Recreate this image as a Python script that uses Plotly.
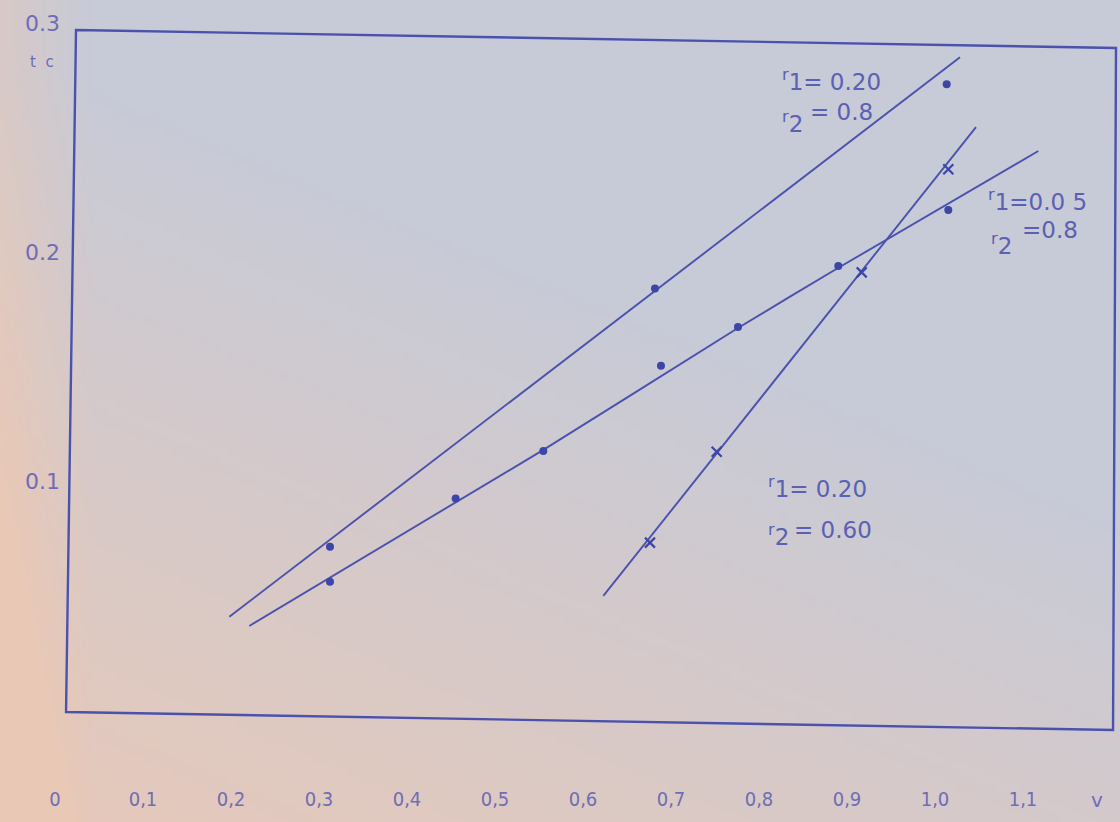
import zlib, struct, base64
import plotly.graph_objects as go

# ---------------- data ----------------
# Series A : r1 = 0.20, r2 = 0.8  (dots + straight fit)
a_v = [0.3125, 0.6818, 1.0133]
a_t = [0.0713, 0.1841, 0.2732]
a_line_v = [0.1981, 1.0284]
a_line_t = [0.0407, 0.2850]

# Series B : r1 = 0.05, r2 = 0.8  (dots + drawn curve)
b_v = [0.3125, 0.4553, 0.5549, 0.6886, 0.7761, 0.8901, 1.0151]
b_t = [0.0560, 0.0924, 0.1131, 0.1503, 0.1672, 0.1939, 0.2183]
b_line_v = [0.2208, 0.5545, 0.7761, 0.8898, 1.1174]
b_line_t = [0.0367, 0.1135, 0.1668, 0.1930, 0.2441]

# Series C : r1 = 0.20, r2 = 0.60  (crosses + straight fit)
c_v = [0.6761, 0.7519, 0.9167, 1.0151]
c_t = [0.0731, 0.1128, 0.1911, 0.2361]
c_line_v = [0.6231, 1.0466]
c_line_t = [0.0498, 0.2545]

x_tickvals = [0.0, 0.1, 0.2, 0.3, 0.4, 0.5, 0.6, 0.7, 0.8, 0.9, 1.0, 1.1]
x_ticktext = ["0", "0,1", "0,2", "0,3", "0,4", "0,5", "0,6", "0,7", "0,8", "0,9", "1,0", "1,1"]
y_tickvals = [0.1, 0.2, 0.3]
y_ticktext = ["0.1", "0.2", "0.3"]

# ---------------- styling ----------------
W, H = 1120, 822
ML, MR, MT, MB = 55, 4, 23, 112
PW, PH = W - ML - MR, H - MT - MB
LINE = "#4a52ad"
DOT = "#3c46a6"
TXT = "#5a60b2"
TICK = "#6e6db6"
FONT = "DejaVu Sans"


def pp(px, py):
    """pixel -> paper coordinates"""
    return (px - ML) / PW, (H - MB - py) / PH


def make_bg(w=160, h=118):
    base = (199, 202, 215)
    pink = (234, 200, 182)
    raw = bytearray()
    for j in range(h):
        yy = j / (h - 1)
        raw.append(0)
        for i in range(w):
            xx = i / (w - 1)
            k = 0.95 * yy + 0.55 * (1 - xx) - 0.6
            edge = max(0.0, 1 - xx * W / 90) * 0.45
            k = min(1.0, max(0.0, k) + edge)
            for c in range(3):
                raw.append(int(round(base[c] + (pink[c] - base[c]) * k)))

    def chunk(t, d):
        return struct.pack(">I", len(d)) + t + d + struct.pack(">I", zlib.crc32(t + d) & 0xFFFFFFFF)

    png = (b"\x89PNG\r\n\x1a\n" + chunk(b"IHDR", struct.pack(">IIBBBBB", w, h, 8, 2, 0, 0, 0))
           + chunk(b"IDAT", zlib.compress(bytes(raw), 9)) + chunk(b"IEND", b""))
    return "data:image/png;base64," + base64.b64encode(png).decode()


fig = go.Figure()

fig.add_trace(go.Scatter(x=a_line_v, y=a_line_t, mode="lines", line=dict(color=LINE, width=1.9), hoverinfo="skip"))
fig.add_trace(go.Scatter(x=a_v, y=a_t, mode="markers", marker=dict(color=DOT, size=8, symbol="circle")))

fig.add_trace(go.Scatter(x=b_line_v, y=b_line_t, mode="lines", line=dict(color=LINE, width=1.9, shape="spline", smoothing=0.6), hoverinfo="skip"))
fig.add_trace(go.Scatter(x=b_v, y=b_t, mode="markers", marker=dict(color=DOT, size=8, symbol="circle")))

fig.add_trace(go.Scatter(x=c_line_v, y=c_line_t, mode="lines", line=dict(color=LINE, width=1.9), hoverinfo="skip"))
fig.add_trace(go.Scatter(x=c_v, y=c_t, mode="markers",
                         marker=dict(color=DOT, size=10, symbol="x-thin", line=dict(color=DOT, width=2.2))))

# frame (slightly skewed, as photographed)
corners = [pp(76, 30), pp(1116, 48), pp(1113, 730), pp(66, 712)]
path = "M " + " L ".join(f"{x:.4f},{y:.4f}" for x, y in corners) + " Z"
shapes = [dict(type="path", path=path, xref="paper", yref="paper",
               line=dict(color=LINE, width=2.4), fillcolor="rgba(0,0,0,0)")]

annotations = []


def label(px, py, text, size=23, color=TXT, anchor="left"):
    x, y = pp(px, py)
    annotations.append(dict(x=x, y=y, xref="paper", yref="paper", text=text, showarrow=False,
                            xanchor=anchor, yanchor="middle",
                            font=dict(family=FONT, size=size, color=color)))


label(780, 80, "<sup>r</sup>1= 0.20")
label(780, 122, "<sup>r</sup>2")
label(808, 112, "= 0.8")
label(986, 200, "<sup>r</sup>1=0.0 5")
label(989, 244, "<sup>r</sup>2")
label(1020, 230, "=0.8")
label(766, 487, "<sup>r</sup>1= 0.20")
label(766, 535, "<sup>r</sup>2")
label(792, 530, "= 0.60")
label(1097, 800, "v", size=20, color=TICK, anchor="center")
label(42, 62, "t  c", size=15, color=TICK, anchor="center")

fig.update_layout(
    width=W, height=H,
    margin=dict(l=ML, r=MR, t=MT, b=MB),
    paper_bgcolor="#cbcad6",
    plot_bgcolor="rgba(0,0,0,0)",
    showlegend=False,
    shapes=shapes,
    annotations=annotations,
    images=[dict(source=make_bg(), xref="paper", yref="paper", x=pp(0, 0)[0], y=pp(0, 0)[1],
                 sizex=W / PW, sizey=H / PH, xanchor="left", yanchor="top",
                 sizing="stretch", layer="below")],
    xaxis=dict(range=[0, PW / 880], showgrid=False, zeroline=False, showline=False,
               tickvals=x_tickvals, ticktext=x_ticktext, ticks="", ticklabelstandoff=75,
               tickfont=dict(family="Liberation Sans Narrow, DejaVu Sans Condensed", size=20, color=TICK),
               automargin=False, fixedrange=True),
    yaxis=dict(range=[0, 0.3], showgrid=False, zeroline=False, showline=False,
               tickvals=y_tickvals, ticktext=y_ticktext, ticks="", ticklabelstandoff=-6,
               tickfont=dict(family=FONT, size=22, color=TICK),
               automargin=False, fixedrange=True),
)

fig.write_html("out.html", config={"displayModeBar": False},
               post_script="document.body.style.margin='0';")
